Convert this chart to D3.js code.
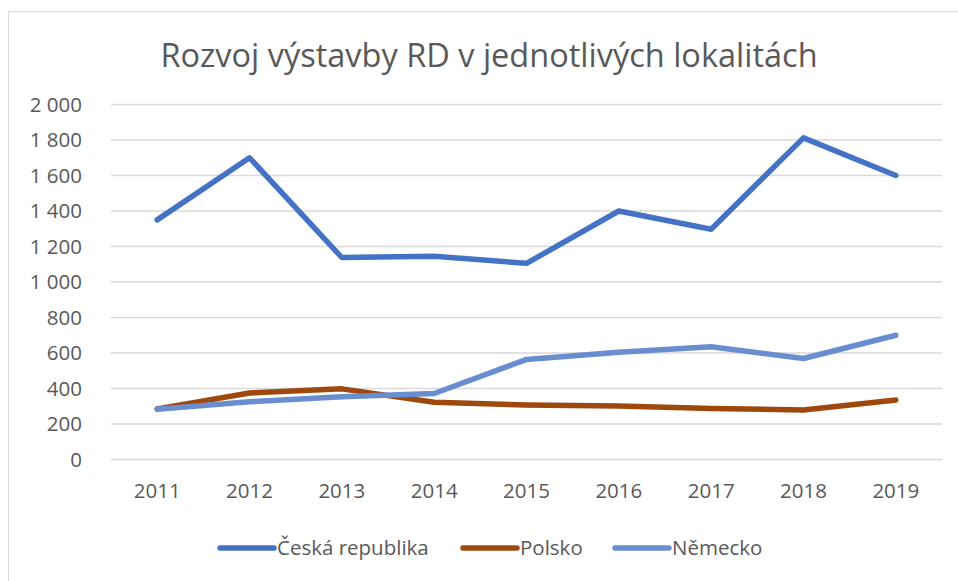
<!DOCTYPE html>
<html>
<head>
<meta charset="utf-8">
<script src="https://cdn.jsdelivr.net/npm/d3@7"></script>
<style>
  body { margin: 0; background: #fff; }
  text { font-family: 'Open Sans', 'Noto Sans', sans-serif; fill: #595959; }
</style>
</head>
<body>
<div id="chart"></div>
<script>
const years = ['2011', '2012', '2013', '2014', '2015', '2016', '2017', '2018', '2019']
const seriesNames = ['Česká republika', 'Polsko', 'Německo']
const cesko = [1350, 1700, 1138, 1145, 1105, 1400, 1297, 1812, 1600]
const polsko = [285, 375, 398, 322, 307, 301, 288, 279, 335]
const nemecko = [283, 325, 353, 372, 564, 604, 635, 569, 700]
const yTicks = [0, 200, 400, 600, 800, 1000, 1200, 1400, 1600, 1800, 2000]
const colors = ['#4472C4', '#9E480E', '#698ED0']

const width = 958
const height = 581
const margin = { top: 104.5, left: 111, right: 15, bottom: 121.5 }

const svg = d3
  .select('#chart')
  .append('svg')
  .attr('width', width)
  .attr('height', height)

// chart border
svg
  .append('rect')
  .attr('x', 8.5)
  .attr('y', 11.5)
  .attr('width', width + 20)
  .attr('height', height + 20)
  .attr('fill', 'none')
  .attr('stroke', '#d9d9d9')

const x = d3
  .scaleBand()
  .domain(years)
  .range([margin.left, width - margin.right - 1])

const y = d3
  .scaleLinear()
  .domain([0, 2000])
  .range([height - margin.bottom, margin.top])

const fmt = d => d3.format(',')(d).replace(',', ' ')

// Gridlines
svg
  .append('g')
  .selectAll('line')
  .data(yTicks)
  .enter()
  .append('line')
  .attr('x1', x.range()[0])
  .attr('x2', x.range()[1])
  .attr('y1', d => y(d))
  .attr('y2', d => y(d))
  .attr('stroke', '#d9d9d9')
  .attr('stroke-width', 1.3)

// Y labels
svg
  .append('g')
  .selectAll('text')
  .data(yTicks)
  .enter()
  .append('text')
  .attr('x', 82)
  .attr('y', d => y(d))
  .attr('dy', '0.36em')
  .attr('text-anchor', 'end')
  .style('font-size', '20.5px')
  .text(fmt)

// X labels
svg
  .append('g')
  .selectAll('text')
  .data(years)
  .enter()
  .append('text')
  .attr('x', d => x(d) + x.bandwidth() / 2)
  .attr('y', 498)
  .attr('text-anchor', 'middle')
  .style('font-size', '20.5px')
  .text(d => d)

// Title
svg
  .append('text')
  .attr('x', 489)
  .attr('y', 67)
  .attr('text-anchor', 'middle')
  .style('font-size', '32.5px')
  .text('Rozvoj výstavby RD v jednotlivých lokalitách')

const series = [cesko, polsko, nemecko]

const line = d3
  .line()
  .x((d, i) => x(years[i]) + x.bandwidth() / 2)
  .y(d => y(d))

// Lines
svg
  .append('g')
  .selectAll('path')
  .data(series)
  .enter()
  .append('path')
  .attr('d', line)
  .attr('fill', 'none')
  .attr('stroke', (d, i) => colors[i])
  .attr('stroke-width', 5.5)
  .attr('stroke-linejoin', 'round')
  .attr('stroke-linecap', 'round')

// Legend
const legendX = [220, 463, 615]
const legend = svg.append('g').attr('transform', 'translate(0,548)')

legend
  .selectAll('.legend')
  .data(seriesNames)
  .enter()
  .append('g')
  .attr('class', 'legend')
  .attr('transform', (d, i) => `translate(${legendX[i]},0)`)
  .each(function(d, i) {
    const g = d3.select(this)

    g.append('line')
      .attr('x1', 0)
      .attr('x2', 54)
      .attr('stroke', colors[i])
      .attr('stroke-width', 5.5)
      .attr('stroke-linecap', 'round')

    g.append('text')
      .text(d)
      .attr('x', 57)
      .attr('dy', '0.36em')
      .style('font-size', '20.5px')
  })
</script>
</body>
</html>
